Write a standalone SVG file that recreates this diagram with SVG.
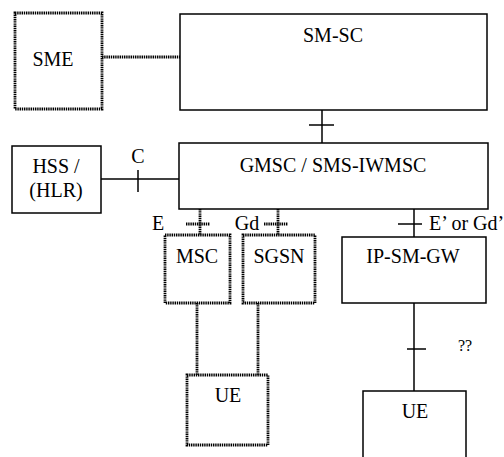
<svg xmlns="http://www.w3.org/2000/svg" width="504" height="457" viewBox="0 0 504 457">
<style>
text{font-family:'Liberation Serif','DejaVu Serif',serif;font-size:20px;fill:#000;text-anchor:middle}
.s{fill:#fff;stroke:#000;stroke-width:1.5}
.d{fill:#fff;stroke:#000;stroke-width:2.8;stroke-dasharray:1.4 0.8}
.l{fill:none;stroke:#000;stroke-width:1.5}
.dl{fill:none;stroke:#000;stroke-width:2.8;stroke-dasharray:1.4 0.8}
</style>
<rect width="504" height="457" fill="#fff"/>
<g id="connectors">
<line class="dl" x1="102" y1="57" x2="180" y2="57"/>
<line class="l" x1="322" y1="110" x2="322" y2="143"/>
<line class="l" x1="309" y1="125" x2="334" y2="125"/>
<line class="l" x1="100" y1="179" x2="179" y2="179"/>
<line class="l" x1="138" y1="170" x2="138" y2="192"/>
<text x="138" y="163" font-family="Liberation Serif">C</text>
<line class="dl" x1="200" y1="209" x2="200" y2="235"/>
<line class="dl" x1="186" y1="224" x2="210" y2="224"/>
<text x="158" y="230">E</text>
<line class="dl" x1="278" y1="209" x2="278" y2="235"/>
<line class="dl" x1="264" y1="224" x2="288" y2="224"/>
<text x="247" y="230">Gd</text>
<line class="l" x1="414" y1="209" x2="414" y2="237"/>
<line class="l" x1="398" y1="224" x2="422" y2="224"/>
<text x="429" y="230" style="text-anchor:start">E’ or Gd’</text>
<line class="dl" x1="197" y1="303" x2="197" y2="375"/>
<line class="dl" x1="258" y1="303" x2="258" y2="375"/>
<line class="l" x1="414" y1="303" x2="414" y2="391"/>
<line class="l" x1="407" y1="349" x2="426" y2="349"/>
<text x="465" y="351" style="font-size:16px">??</text>
</g>
<g id="sme"><rect class="d" x="15" y="13" width="87" height="96"/><text x="53" y="66">SME</text></g>
<g id="smsc"><rect class="s" x="180" y="14" width="307" height="96"/><text x="333" y="42">SM-SC</text></g>
<g id="hss"><rect class="s" x="12" y="146" width="89" height="67"/><text x="56" y="173">HSS /</text><text x="56" y="197">(HLR)</text></g>
<g id="gmsc"><rect class="s" x="179" y="143" width="309" height="66"/><text x="333" y="172">GMSC / SMS-IWMSC</text></g>
<g id="msc"><rect class="d" x="165" y="235" width="65" height="68"/><text x="197" y="263">MSC</text></g>
<g id="sgsn"><rect class="d" x="243" y="235" width="72" height="68"/><text x="279" y="263">SGSN</text></g>
<g id="ipsmgw"><rect class="s" x="342" y="237" width="144" height="66"/><text x="413" y="263">IP-SM-GW</text></g>
<g id="ue1"><rect class="d" x="187" y="375" width="81" height="70"/><text x="228" y="402">UE</text></g>
<g id="ue2"><rect class="s" x="363" y="391" width="103" height="80"/><text x="415" y="418">UE</text></g>
</svg>
